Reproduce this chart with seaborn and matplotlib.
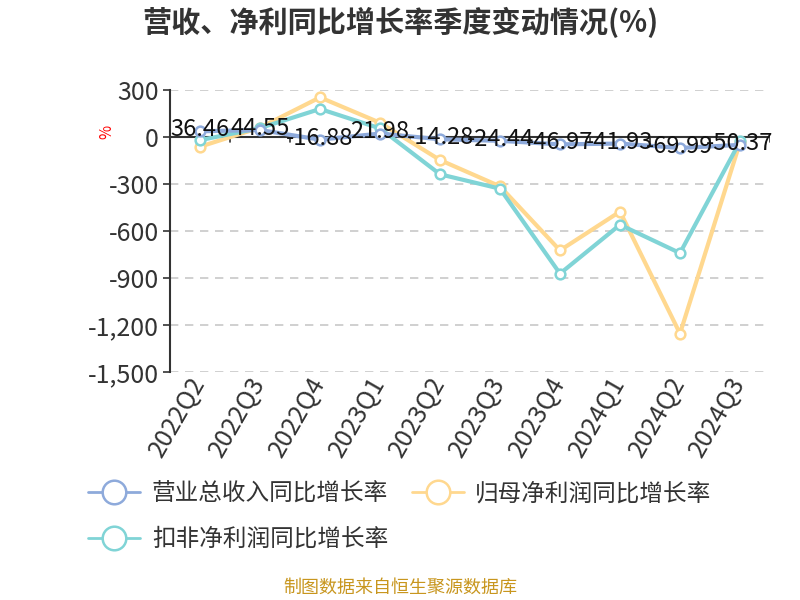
import matplotlib
matplotlib.use("Agg")
import matplotlib.pyplot as plt
import pandas as pd
import seaborn as sns
from matplotlib.lines import Line2D

# data
quarters = ["2022Q2", "2022Q3", "2022Q4", "2023Q1", "2023Q2",
            "2023Q3", "2023Q4", "2024Q1", "2024Q2", "2024Q3"]
revenue_yoy = [36.46, 44.55, -16.88, 21.98, -14.28, -24.44, -46.97, -41.93, -69.99, -50.37]
parent_np_yoy = [-62, 60, 253, 91, -147, -315, -724, -476, -1255, -35]
deducted_np_yoy = [-20, 57, 179, 55, -238, -330, -872, -560, -741, -28]

series_names = ["营业总收入同比增长率", "归母净利润同比增长率", "扣非净利润同比增长率"]
colors = ["#8eaadb", "#ffd88f", "#80d4d6"]
yticks = [300, 0, -300, -600, -900, -1200, -1500]

sns.set_theme(style="white")
plt.rcParams["font.family"] = ["Noto Sans CJK SC", "DejaVu Sans"]

df = pd.DataFrame({
    "quarter": quarters * 3,
    "value": revenue_yoy + parent_np_yoy + deducted_np_yoy,
    "series": [series_names[0]] * 10 + [series_names[1]] * 10 + [series_names[2]] * 10,
})

fig = plt.figure(figsize=(8, 6), dpi=100)
ax = fig.add_axes([0.2125, 0.38, 0.75, 0.47])

# grid
for t in yticks:
    ax.axhline(t, color="#c8c8c8", lw=1.2, ls=(0, (5, 4)), zorder=0)

# draw order: parent, deducted, revenue on top
for name, color in [(series_names[1], colors[1]), (series_names[2], colors[2]),
                    (series_names[0], colors[0])]:
    sub = df[df["series"] == name]
    sns.lineplot(data=sub, x="quarter", y="value", ax=ax, color=color, lw=3,
                 marker="o", markersize=7, markerfacecolor="white",
                 markeredgecolor=color, markeredgewidth=1.8, legend=False,
                 sort=False, zorder=3)

# zero axis line with ticks between categories
ax.axhline(0, color="#333333", lw=1.5, zorder=2)
for i in range(10):
    ax.plot([i + 0.5, i + 0.5], [0, -30], color="#333333", lw=1.2, zorder=2)

# data labels for revenue
for i, v in enumerate(revenue_yoy):
    ax.text(i, v + 10, f"{v:.2f}", ha="center", va="center", fontsize=17,
            color="#111111", zorder=5)

ax.set_xlim(-0.5, 9.5)
ax.set_ylim(-1500, 300)
ax.set_yticks(yticks)
ax.set_yticklabels([f"{t:,}" for t in yticks], fontsize=18, color="#333333")
ax.set_xticks(range(10))
ax.set_xticklabels(quarters, rotation=60, ha="right", va="center",
                   rotation_mode="anchor", fontsize=18, color="#333333")
ax.tick_params(axis="x", length=0, pad=5)
ax.tick_params(axis="y", length=5, width=1.2, color="#333333", left=True, pad=3)
ax.set_xlabel("")
ax.set_ylabel("")
for s in ["top", "right", "bottom"]:
    ax.spines[s].set_visible(False)
ax.spines["left"].set_color("#333333")
ax.spines["left"].set_linewidth(1.5)

fig.text(0.133, 0.78, "%", color="red", fontsize=11, rotation=90,
         ha="center", va="center")

fig.text(0.5, 0.962, "营收、净利同比增长率季度变动情况(%)", ha="center", va="center",
         fontsize=21, fontweight="bold", color="#333333")

handles = [Line2D([0], [0], color=c, lw=2, marker="o", markersize=17,
                  markerfacecolor="white", markeredgecolor=c, markeredgewidth=1.8)
           for c in colors]
order = [0, 2, 1]
fig.legend([handles[i] for i in order], [series_names[i] for i in order],
           ncol=2, loc="upper left", bbox_to_anchor=(0.11, 0.196),
           frameon=False, fontsize=17, handlelength=2.2, handletextpad=0.5,
           columnspacing=1.0, labelspacing=0.95, labelcolor="#333333",
           borderaxespad=0, borderpad=0)

fig.text(0.5, 0.02, "制图数据来自恒生聚源数据库", ha="center", va="center",
         fontsize=13, color="#c8961e")

fig.savefig("out.png", dpi=100)
